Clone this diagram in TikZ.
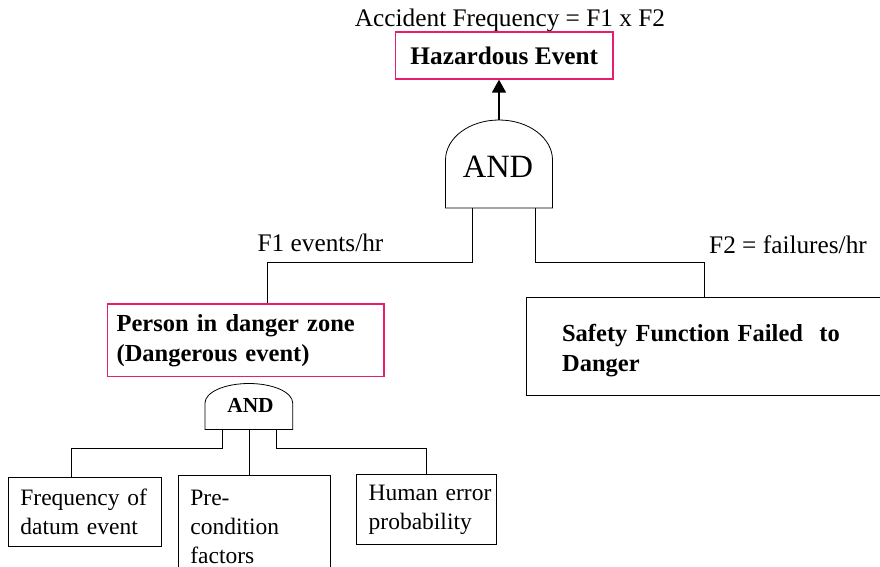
\documentclass[tikz,border=0pt]{standalone}
\usepackage{fontspec}
\setmainfont{Liberation Serif}
\usetikzlibrary{arrows.meta}
\definecolor{hotpink}{RGB}{230,30,110}
\begin{document}
\begin{tikzpicture}[x=1pt,y=1pt,
  txt/.style={font=\fontsize{25.3}{29}\selectfont, inner sep=0pt},
  pinkframe/.style={draw=hotpink, line width=1.3pt, anchor=north west, align=left, inner ysep=0pt, font=\bfseries\fontsize{24.5}{30}\selectfont},
  plainbox/.style={draw=black, line width=0.8pt, anchor=north west, align=left, inner ysep=0pt, font=\fontsize{23.5}{29}\selectfont},
  gateline/.style={draw=black, line width=0.8pt, fill=white},
  conn/.style={draw=black, line width=0.8pt}]
\useasboundingbox (0,0) rectangle (880,-567);

% top event
\node[txt] (acc) at (510,-20) {Accident Frequency = F1 x F2};
\node[pinkframe, anchor=center, minimum width=217.3, minimum height=47, align=center, font=\bfseries\fontsize{25.3}{30}\selectfont] (haz) at (504.3,-55.5) {Hazardous Event};

% main AND gate
\draw[gateline] (445.5,-208) -- (445.5,-160) arc[start angle=180,end angle=0,x radius=53.5pt,y radius=40pt] -- (552.5,-208) -- cycle;
\coordinate (gAtop) at (499,-120);
\coordinate (gAl) at (472.3,-208);
\coordinate (gAr) at (535,-208);
\node[font=\fontsize{32.5}{32.5}\selectfont, inner sep=0pt] (andA) at (498,-167) {AND};
\draw[-{Triangle[width=14pt,length=13pt]}, line width=1.6pt] (gAtop) -- (gAtop |- haz.south);

% labels
\node[txt] (f1) at (320.5,-243) {F1 events/hr};
\node[txt] (f2) at (788,-245) {F2 = failures/hr};

% intermediate events
\node[pinkframe, minimum width=276.6, minimum height=72.7, inner xsep=9.3, text width=258] (person) at (106.7,-303.3) {Person in danger zone\\(Dangerous event)};
\node[plainbox, font=\bfseries\fontsize{24.5}{30}\selectfont, minimum width=356.6, minimum height=98, inner xsep=36, text width=284.6] (safety) at (525.7,-297) {\rule{0pt}{25pt}Safety Function Failed\ \ to\\Danger};

\draw[conn] (gAl) -- ++(0,-54) -| ([xshift=21.7]person.north);
\draw[conn] (gAr) -- ++(0,-54) -| (safety.north);

% small AND gate
\draw[gateline] (205,-429.5) -- (205,-403) arc[start angle=180,end angle=0,x radius=43.85pt,y radius=19.5pt] -- (292.7,-429.5) -- cycle;
\coordinate (gBl) at (222.7,-429.5);
\coordinate (gBm) at (249.3,-429.5);
\coordinate (gBr) at (276,-429.5);
\node[font=\bfseries\fontsize{21.4}{21.4}\selectfont, inner sep=0pt] (andB) at (250.5,-405) {AND};

% basic events
\node[plainbox, minimum width=152.7, minimum height=69.3, inner xsep=11.7, text width=129.3] (freq) at (8.3,-476.7) {\mbox{Frequency of}\\\mbox{datum event}};
\node[plainbox, minimum width=151.7, minimum height=103, inner xsep=11.7, text width=128.3] (pre) at (178.3,-475) {Pre-\\condition\\factors};
\node[plainbox, minimum width=140, minimum height=70, inner xsep=12.3, text width=115.4] (human) at (356,-474.3) {\mbox{Human error}\\probability};

\draw[conn] (gBl) -- ++(0,-19) -| ([xshift=-14]freq.north);
\draw[conn] (gBm) -- (gBm |- pre.north);
\draw[conn] (gBr) -- ++(0,-19) -| (human.north);
\end{tikzpicture}
\end{document}
